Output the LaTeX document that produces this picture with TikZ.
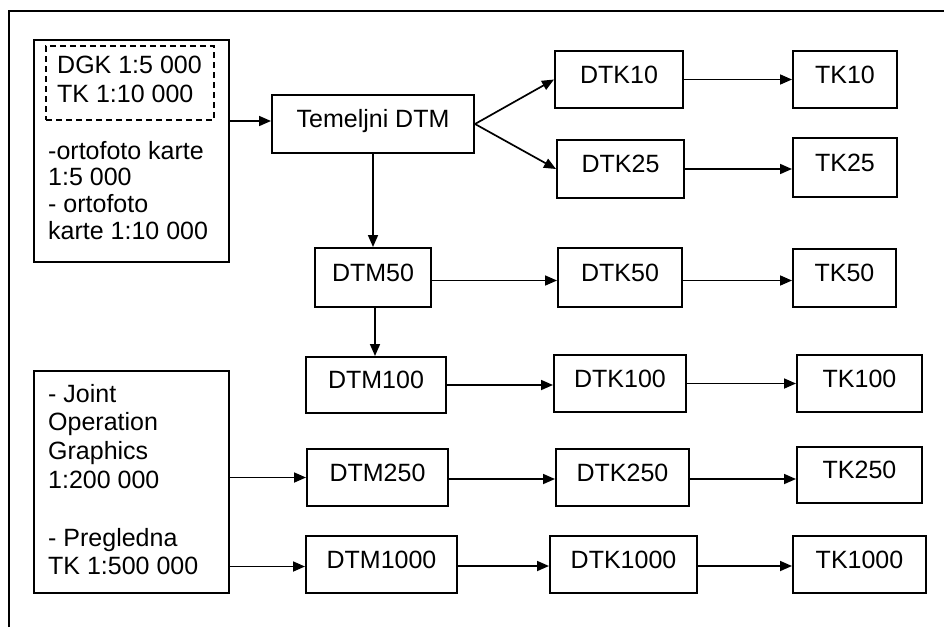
\documentclass[tikz,border=0pt]{standalone}
\usepackage{fontspec}
\setmainfont{Liberation Sans}
\usetikzlibrary{arrows.meta}
\tikzset{
  box/.style={draw, line width=2pt, inner sep=0pt, text height=18pt, text depth=11pt,
    font=\fontsize{25}{28}\selectfont},
  arr/.style={line width=1.7pt, -{Triangle[length=12pt,width=10pt]}},
  txt/.style={anchor=base west, inner sep=0pt},
}
\begin{document}
\begin{tikzpicture}[x=1pt,y=-1pt]
\useasboundingbox (0,0) rectangle (944,627);
% outer frame (top and left edges)
\coordinate (fl) at (9,627);
\coordinate (fc) at (9,11);
\coordinate (fr) at (944,11);
\draw[line width=2.4pt] (fl) -- (fc) -- (fr);

% source boxes
\node[box, minimum width=195pt, minimum height=222pt] (src1) at (131.5,151) {};
\node[draw, line width=1.8pt, dash pattern=on 6pt off 4pt, inner sep=0pt,
      minimum width=168pt, minimum height=74pt] (dgk) at (130,83) {};
\node[txt] (dgktxt) at (57,73) {\parbox[t]{160pt}{\raggedright\fontsize{25}{29}\selectfont DGK 1:5 000\\TK 1:10 000}};
\node[txt] (orto) at (48,159) {\parbox[t]{178pt}{\raggedright\fontsize{25}{26.7}\selectfont -ortofoto karte\\1:5 000\\- ortofoto\\karte 1:10 000}};

\node[box, minimum width=195pt, minimum height=222pt] (src2) at (131.5,482) {};
\node[txt] (jog) at (48,402) {\parbox[t]{178pt}{\raggedright\fontsize{25}{28.8}\selectfont - Joint\\Operation\\Graphics\\1:200 000\\\mbox{}\\- Pregledna\\TK 1:500 000}};

% main chain
\node[box, minimum width=202pt, minimum height=58pt] (tem) at (373,124) {Temeljni DTM};
\node[box, minimum width=128pt, minimum height=57pt] (dtk10) at (619,79.5) {DTK10};
\node[box, minimum width=127pt, minimum height=58pt] (dtk25) at (620.5,169) {DTK25};
\node[box, minimum width=104pt, minimum height=57pt] (tk10) at (845,79.5) {TK10};
\node[box, minimum width=104pt, minimum height=59pt] (tk25) at (845,167.5) {TK25};

\node[box, minimum width=116pt, minimum height=59pt] (dtm50) at (373,277.5) {DTM50};
\node[box, minimum width=124pt, minimum height=59pt] (dtk50) at (620,277.5) {DTK50};
\node[box, minimum width=103pt, minimum height=58pt] (tk50) at (844.5,278) {TK50};

\node[box, minimum width=140pt, minimum height=56pt] (dtm100) at (376,385) {DTM100};
\node[box, minimum width=132pt, minimum height=57pt] (dtk100) at (620,383.5) {DTK100};
\node[box, minimum width=125pt, minimum height=57pt] (tk100) at (859.5,383.5) {TK100};

\node[box, minimum width=141pt, minimum height=57pt] (dtm250) at (377.5,477.5) {DTM250};
\node[box, minimum width=133pt, minimum height=57pt] (dtk250) at (622.5,477.5) {DTK250};
\node[box, minimum width=125pt, minimum height=56pt] (tk250) at (859.5,475) {TK250};

\node[box, minimum width=151pt, minimum height=57pt] (dtm1000) at (381.5,564.5) {DTM1000};
\node[box, minimum width=147pt, minimum height=57pt] (dtk1000) at (623.5,564.5) {DTK1000};
\node[box, minimum width=133pt, minimum height=57pt] (tk1000) at (859.5,564.5) {TK1000};

% connectors
\draw[arr] ([yshift=3pt]src1.east |- tem.west) -- ([yshift=3pt]tem.west);
\draw[arr] (tem.east) -- (dtk10.west);
\draw[arr] (tem.east) -- (dtk25.west);
\draw[arr] (dtk10.east) -- (dtk10.east -| tk10.west);
\draw[arr] (dtk25.east) -- (dtk25.east -| tk25.west);
\draw[arr] (tem.south) -- (tem.south |- dtm50.north);
\draw[arr] ([yshift=-3pt]dtm50.east) -- ([yshift=-3pt]dtm50.east -| dtk50.west);
\draw[arr] ([yshift=-3pt]dtk50.east) -- ([yshift=-3pt]dtk50.east -| tk50.west);
\draw[arr] ([xshift=2pt]dtm50.south) -- ([xshift=2pt]dtm50.south |- dtm100.north);
\draw[arr] (dtm100.east) -- (dtm100.east -| dtk100.west);
\draw[arr] (dtk100.east) -- (dtk100.east -| tk100.west);
\draw[arr] (src2.east |- dtm250.west) -- (dtm250.west);
\draw[arr] ([yshift=-1.5pt]dtm250.east) -- ([yshift=-1.5pt]dtm250.east -| dtk250.west);
\draw[arr] ([yshift=-1.5pt]dtk250.east) -- ([yshift=-1.5pt]dtk250.east -| tk250.west);
\draw[arr] ([yshift=-2pt]src2.east |- dtm1000.west) -- ([yshift=-2pt]dtm1000.west);
\draw[arr] ([yshift=-1.5pt]dtm1000.east) -- ([yshift=-1.5pt]dtm1000.east -| dtk1000.west);
\draw[arr] ([yshift=-1.5pt]dtk1000.east) -- ([yshift=-1.5pt]dtk1000.east -| tk1000.west);
\end{tikzpicture}
\end{document}
